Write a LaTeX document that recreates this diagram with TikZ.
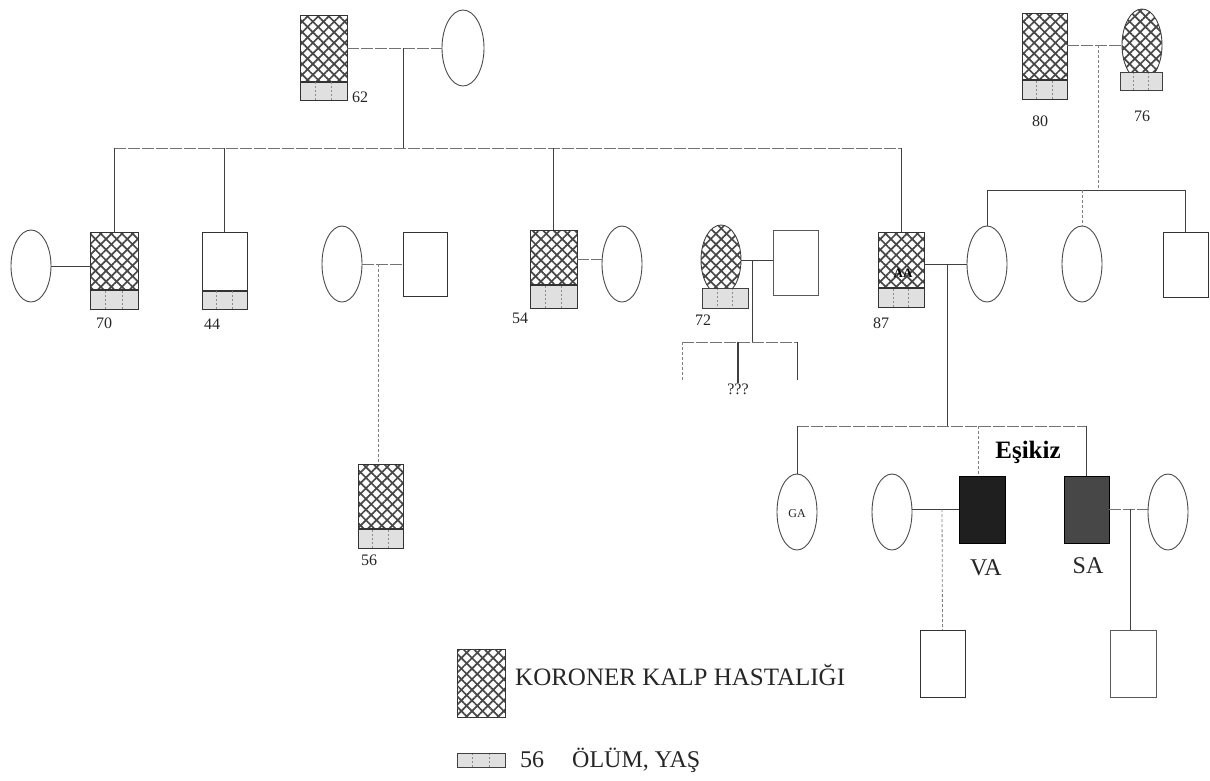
\documentclass[tikz,border=0pt]{standalone}
\usepackage{fontspec}
\setmainfont{Liberation Serif}
\usetikzlibrary{patterns,patterns.meta,shapes.geometric,calc}
\begin{document}
\begin{tikzpicture}[x=1pt,y=-1pt,
 ln/.style={draw=black!75,line width=0.9pt},
 fl/.style={draw=black!55,line width=0.8pt,dash pattern=on 12pt off 2pt},
 dl/.style={draw=black!50,line width=0.8pt,dash pattern=on 3pt off 2pt},
 sq/.style={rectangle,draw=black!80,line width=0.9pt,inner sep=0pt,outer sep=0pt},
 el/.style={ellipse,draw=black!70,line width=0.9pt,inner sep=0pt,outer sep=0pt,minimum width=40pt,minimum height=76pt},
 kkh/.style={pattern={Lines[angle=45,distance=7.5pt,line width=1.7pt]},pattern color=black!72,
   postaction={pattern={Lines[angle=-45,distance=7.5pt,line width=1.7pt]},pattern color=black!72}},
 hd/.style={path picture={
   \path[kkh] (path picture bounding box.north west) rectangle ([yshift=#1]path picture bounding box.south east);
   \fill[black!12] ([yshift=#1]path picture bounding box.south west) rectangle (path picture bounding box.south east);
   \draw[black!80,line width=1.2pt] ([yshift=#1]path picture bounding box.south west) -- ([yshift=#1]path picture bounding box.south east);
   \draw[black!45,line width=0.8pt,dash pattern=on 2pt off 2pt] ($(path picture bounding box.south west)!0.33!(path picture bounding box.south east)$) -- ++(0pt,#1);
   \draw[black!45,line width=0.8pt,dash pattern=on 2pt off 2pt] ($(path picture bounding box.south west)!0.67!(path picture bounding box.south east)$) -- ++(0pt,#1);
 }},
 dd/.style={path picture={
   \fill[black!12] ([yshift=#1]path picture bounding box.south west) rectangle (path picture bounding box.south east);
   \draw[black!80,line width=1.2pt] ([yshift=#1]path picture bounding box.south west) -- ([yshift=#1]path picture bounding box.south east);
   \draw[black!45,line width=0.8pt,dash pattern=on 2pt off 2pt] ($(path picture bounding box.south west)!0.33!(path picture bounding box.south east)$) -- ++(0pt,#1);
   \draw[black!45,line width=0.8pt,dash pattern=on 2pt off 2pt] ($(path picture bounding box.south west)!0.67!(path picture bounding box.south east)$) -- ++(0pt,#1);
 }},
 dbox/.style={rectangle,draw=black!75,line width=0.9pt,fill=black!12,inner sep=0pt,outer sep=0pt,
   path picture={
   \draw[black!45,line width=0.8pt,dash pattern=on 2pt off 2pt] ($(path picture bounding box.north west)!0.33!(path picture bounding box.north east)$) -- ($(path picture bounding box.south west)!0.33!(path picture bounding box.south east)$);
   \draw[black!45,line width=0.8pt,dash pattern=on 2pt off 2pt] ($(path picture bounding box.north west)!0.67!(path picture bounding box.north east)$) -- ($(path picture bounding box.south west)!0.67!(path picture bounding box.south east)$);
 }},
 num/.style={font=\fontsize{16}{16}\selectfont,inner sep=0pt,text=black!85},
 small/.style={font=\fontsize{12}{12}\selectfont,inner sep=0pt,text=black!85},
 big/.style={font=\fontsize{24}{24}\selectfont,inner sep=0pt,text=black!85},
 leg/.style={font=\fontsize{24}{24}\selectfont,inner sep=0pt,text=black!85,anchor=west}
]
\useasboundingbox (0,0) rectangle (1210,780);
\fill[white] (0,0) rectangle (1210,780);

% ---------- generation 1, left
\node[sq,minimum width=47pt,minimum height=85pt,hd=18pt] (gf1) at (323.5,57.5) {};
\node[el,minimum width=42pt] (gm1) at (463,48) {};
\node[num] (l62) at (360,97) {62};
\coordinate (c1) at (403,48);
\coordinate (sib1) at (403,148);
\draw[fl] (gf1.east |- gm1.west) -- (gm1.west);
\draw[ln] (c1) -- (sib1);

% ---------- generation 1, right
\node[sq,minimum width=45pt,minimum height=86pt,hd=19pt] (gf2) at (1044.5,56) {};
\node[ellipse,draw=black!75,line width=0.9pt,inner sep=0pt,minimum width=40pt,minimum height=72pt,kkh] (gm2) at (1142,45) {};
\node[dbox,minimum width=42pt,minimum height=18pt] (gm2d) at (1141,81) {};
\node[num] (l80) at (1040,121) {80};
\node[num] (l76) at (1142,116) {76};
\coordinate (c2) at (1098,45);
\coordinate (sib2) at (1098,190);
\draw[fl] (gf2.east |- gm2.west) -- (gm2.west);
\draw[dl] (c2) -- (sib2);

% ---------- generation 2
\node[el,minimum height=72pt] (w70) at (31,266) {};
\node[sq,minimum width=48pt,minimum height=77pt,hd=19pt] (s70) at (114,270.5) {};
\node[num] (l70) at (104,323) {70};
\draw[ln] (w70.east) -- (w70.east -| s70.west);

\node[sq,minimum width=45pt,minimum height=77pt,dd=18pt] (s44) at (224.5,270.5) {};
\node[num] (l44) at (212,324) {44};

\node[el] (w3) at (342,264) {};
\node[sq,minimum width=44pt,minimum height=64pt] (h3) at (425,264) {};
\draw[fl] (w3.east) -- (h3.west);
\coordinate (c3) at (378,264);
\node[sq,minimum width=45pt,minimum height=84pt,hd=19pt] (s56) at (380.5,506) {};
\node[num] (l56) at (369,560) {56};
\draw[dl] (c3) -- (c3 |- s56.north);

\node[sq,minimum width=47pt,minimum height=78pt,hd=23pt] (s54) at (553.5,269) {};
\node[el] (w54) at (622,264) {};
\node[num] (l54) at (520,318) {54};
\draw[fl] (s54.east |- 0,259) -- (w54.west |- 0,259);

\node[ellipse,draw=black!75,line width=0.9pt,inner sep=0pt,minimum width=40pt,minimum height=70pt,kkh] (f72) at (721,260) {};
\node[dbox,minimum width=46pt,minimum height=20pt] (f72d) at (725,298) {};
\node[sq,draw=black!65,minimum width=45pt,minimum height=65pt] (h72) at (795.5,262.5) {};
\node[num] (l72) at (703,320) {72};
\coordinate (c72) at (752,260);
\coordinate (s72) at (752,342);
\draw[ln] (f72.east) -- (f72.east -| h72.west);
\draw[ln] (c72) -- (s72);
\coordinate (s72L) at (682,342);
\coordinate (s72R) at (797,342);
\coordinate (k1) at (682,380);
\coordinate (k3) at (797,380);
\node[num] (q72) at (738,389) {???};
\draw[fl] (s72L) -- (s72R);
\draw[dl] (s72L) -- (k1);
\draw[ln] (s72R) -- (k3);
\draw[ln,line width=1.4pt] (q72.north |- s72L) -- (q72.north);

\node[sq,minimum width=46pt,minimum height=75pt,hd=19pt] (s87) at (901,269.5) {};
\node[font=\fontsize{13}{13}\selectfont\bfseries,inner sep=0pt,text=black] (aa) at (903,273) {AA};
\node[num] (l87) at (881,323) {87};
\node[el] (w87) at (987,264) {};
\coordinate (c87) at (947,264);
\draw[ln] (s87.east |- c87) -- (w87.west);

\node[el] (e2) at (1082,264) {};
\node[sq,minimum width=45pt,minimum height=65pt] (r2) at (1185.5,264.5) {};

% sibship lines of generation 2
\draw[fl] (s70.north |- sib1) -- (s87.north |- sib1);
\draw[ln] (s70.north |- sib1) -- (s70.north);
\draw[ln] (s44.north |- sib1) -- (s44.north);
\draw[ln] (s54.north |- sib1) -- (s54.north);
\draw[ln] (s87.north |- sib1) -- (s87.north);

\draw[ln] (w87.north |- sib2) -- (r2.north |- sib2);
\draw[ln] (w87.north |- sib2) -- (w87.north);
\draw[dl] (e2.north |- sib2) -- (e2.north);
\draw[ln] (r2.north |- sib2) -- (r2.north);

% ---------- generation 3
\coordinate (sib3) at (947,426);
\draw[ln] (c87) -- (sib3);
\node[el] (ga) at (797,512) {};
\node[small] (lga) at (797,514) {GA};
\node[el] (wva) at (892,512) {};
\node[sq,draw=black,fill=black!88,minimum width=46pt,minimum height=67pt] (va) at (982,509.5) {};
\node[sq,draw=black,fill=black!72,minimum width=45pt,minimum height=67pt] (sa) at (1086.5,509.5) {};
\node[el] (wsa) at (1168,512) {};
\node[big] (lva) at (986,568) {VA};
\node[big] (lsa) at (1088,566) {SA};
\node[font=\fontsize{25}{25}\selectfont\bfseries,inner sep=0pt] (esik) at (1028,452) {Eşikiz};

\draw[fl] (ga.north |- sib3) -- (sa.north |- sib3);
\draw[ln] (ga.north |- sib3) -- (ga.north);
\draw[dl] (978,426) -- (978,476);
\draw[ln] (sa.north |- sib3) -- (sa.north);

\draw[ln] (wva.east |- 0,509) -- (va.west |- 0,509);
\draw[fl] (sa.east |- 0,509) -- (wsa.west |- 0,509);
\node[sq,minimum width=45pt,minimum height=67pt] (cva) at (942.5,663.5) {};
\node[sq,draw=black!65,minimum width=46pt,minimum height=67pt] (csa) at (1133,663.5) {};
\draw[dl] (942,509) -- (cva.north);
\draw[ln] (1130,509) -- (1130,630);

% ---------- legend
\node[sq,minimum width=48pt,minimum height=68pt,kkh] (lk) at (481,683) {};
\node[leg,font=\fontsize{25}{25}\selectfont] (lkt) at (515,675) {KORONER KALP HASTALIĞI};
\node[dbox,minimum width=48pt,minimum height=14pt] (ld) at (481,760) {};
\node[leg] (ld1) at (520,760) {56};
\node[leg] (ld2) at (572,760) {ÖLÜM, YAŞ};
\end{tikzpicture}
\end{document}
